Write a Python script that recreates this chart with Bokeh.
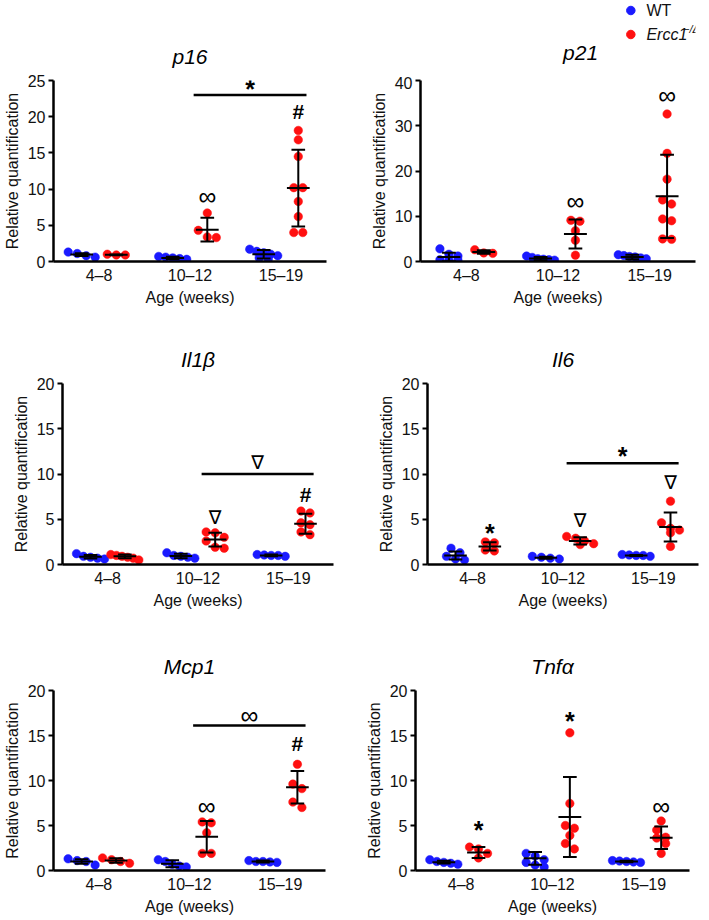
from bokeh.plotting import figure
from bokeh.models import Range1d, FixedTicker
from bokeh.layouts import column, row
from bokeh.embed import file_html
from bokeh.resources import INLINE
from bokeh.core.properties import value

ages = ["4–8", "10–12", "15–19"]
wt_label = "WT"
ko_label = "Ercc1"
ko_sup = "−/Δ"

# ---------------- data ----------------
p16_wt = [[0.6, 1.3, 1.1, 0.8], [0.4, 0.6, 0.5, 0.7, 0.3], [1.7, 1.4, 1.0, 0.8, 0.5, 0.3, 1.2]]
p16_ko = [[0.9, 1.0, 0.9], [6.7, 4.3, 3.3, 3.4], [18.1, 16.8, 14.5, 10.2, 10.2, 8.3, 6.2, 4.0, 4.0]]
p16_wt_mean = [0.95, 0.5, 1.0]
p16_wt_sd = [0.2, 0.15, 0.6]
p16_ko_mean = [0.93, 4.4, 10.15]
p16_ko_sd = [0.05, 1.65, 5.3]

p21_wt = [[2.8, 1.6, 1.2, 0.4, 0.3, 0.3], [0.9, 1.2, 0.5, 0.3, 0.6, 0.4], [1.5, 1.3, 1.0, 0.8, 0.6, 1.1]]
p21_ko = [[1.8, 2.6, 1.9], [9.1, 8.9, 6.8, 4.7, 1.4], [32.6, 23.9, 18.2, 13.6, 12.7, 9.4, 9.0, 5.0, 4.9]]
p21_wt_mean = [1.0, 0.65, 1.0]
p21_wt_sd = [0.95, 0.35, 0.5]
p21_ko_mean = [2.1, 6.1, 14.4]
p21_ko_sd = [0.4, 3.2, 9.2]

il1b_wt = [[0.6, 1.2, 0.8, 0.7, 0.9], [1.3, 0.9, 0.7, 1.0, 0.8], [1.0, 1.1, 0.9, 1.0, 1.05]]
il1b_ko = [[1.1, 0.7, 0.9, 0.8, 1.0, 0.5], [3.6, 3.5, 3.0, 2.6, 1.9, 1.8], [5.9, 5.7, 4.6, 4.4, 3.6, 3.3]]
il1b_wt_mean = [0.85, 0.95, 1.0]
il1b_wt_sd = [0.2, 0.25, 0.1]
il1b_ko_mean = [0.9, 2.75, 4.5]
il1b_ko_sd = [0.2, 0.75, 1.1]

il6_wt = [[1.8, 1.3, 0.9, 0.5, 0.6], [0.9, 0.7, 0.6, 0.8], [1.0, 1.1, 0.9, 1.0, 1.05]]
il6_ko = [[2.5, 2.4, 1.6, 1.5], [3.1, 2.9, 2.6, 2.3, 2.2], [7.0, 4.6, 4.0, 3.8, 3.5, 2.0]]
il6_wt_mean = [1.0, 0.75, 1.0]
il6_wt_sd = [0.45, 0.12, 0.06]
il6_ko_mean = [2.0, 2.6, 4.15]
il6_ko_sd = [0.45, 0.4, 1.6]

mcp1_wt = [[1.3, 1.1, 0.6, 1.0], [1.2, 1.0, 0.5, 0.4, 0.7], [1.1, 1.0, 0.9, 1.0, 0.95]]
mcp1_ko = [[1.4, 0.8, 1.2, 1.0], [5.4, 5.3, 4.2, 1.9, 1.9], [11.8, 9.6, 9.1, 7.6, 7.0]]
mcp1_wt_mean = [1.0, 0.75, 1.0]
mcp1_wt_sd = [0.25, 0.4, 0.1]
mcp1_ko_mean = [1.1, 3.75, 9.25]
mcp1_ko_sd = [0.25, 1.75, 1.8]

tnfa_wt = [[1.2, 0.9, 0.7, 1.0, 0.8], [1.9, 1.6, 1.2, 0.9, 0.6, 0.4], [1.0, 1.1, 0.9, 0.95, 1.05]]
tnfa_ko = [[2.6, 2.4, 1.9, 1.4], [15.3, 7.45, 5.0, 4.7, 3.9, 3.0, 2.4], [5.5, 4.5, 3.7, 3.6, 3.0, 1.9]]
tnfa_wt_mean = [0.92, 1.35, 1.0]
tnfa_wt_sd = [0.15, 0.7, 0.08]
tnfa_ko_mean = [2.0, 5.95, 3.65]
tnfa_ko_sd = [0.6, 4.45, 1.25]

# significance marks: (age index, symbol, y)
p16_marks = [(1, "∞", 9.0), (2, "#", 20.7)]
p21_marks = [(1, "∞", 13.3), (2, "∞", 36.9)]
il1b_marks = [(1, "∇", 5.3), (2, "#", 7.7)]
il6_marks = [(0, "*", 3.8), (1, "∇", 4.9), (2, "∇", 9.1)]
mcp1_marks = [(1, "∞", 7.2), (2, "#", 14.1)]
tnfa_marks = [(0, "*", 4.8), (1, "*", 16.9), (2, "∞", 7.2)]
# bracket between 10–12 and 15–19 Ercc1 groups: (line y, symbol, symbol y)
p16_bracket = (23.0, "*", 24.3)
il1b_bracket = (10.0, "∇", 11.3)
il6_bracket = (11.2, "*", 12.3)
mcp1_bracket = (16.1, "∞", 17.3)

BLUE = "#1a1aff"
RED = "#ff1010"
FONT = "Liberation Sans"
TXT = "#111111"
OFF = 0.19

SYM_STYLE = {
    "∞": dict(font="Liberation Sans", size="25px", style="normal", dy=0.0),
    "#": dict(font="Liberation Sans", size="21px", style="bold", dy=0.0),
    "*": dict(font="Liberation Sans", size="25px", style="bold", dy=-3.0),
    "∇": dict(font="DejaVu Sans", size="19px", style="normal", dy=0.0),
}


def swarm(vals, ymax, fh, fw, d=9.0, maxspan=28.0):
    ppu_y = fh / ymax
    ppu_x = fw / 3.0
    order = sorted(range(len(vals)), key=lambda i: -vals[i])
    offs = [0.0] * len(vals)
    clusters, cur = [], []
    for i in order:
        if cur and (vals[cur[0]] - vals[i]) * ppu_y > 7.5:
            clusters.append(cur)
            cur = []
        cur.append(i)
    if cur:
        clusters.append(cur)
    for c in clusters:
        n = len(c)
        step = d if n < 2 else min(d, maxspan / (n - 1))
        for j, i in enumerate(c):
            offs[i] = (j - (n - 1) / 2.0) * step / ppu_x
    return offs


def add_sym(p, xs, ys, syms):
    for s in sorted(set(syms)):
        st = SYM_STYLE[s]
        xx = [x for x, q in zip(xs, syms) if q == s]
        yy = [y for y, q in zip(ys, syms) if q == s]
        p.text(x=xx, y=yy, text=[s] * len(xx), text_font=value(st["font"]),
               text_font_size=value(st["size"]), text_font_style=st["style"],
               text_align="center", text_baseline="middle", text_color="black",
               y_offset=-st["dy"])


def make_panel(title, ymax, ystep, wt, ko, wt_mean, wt_sd, ko_mean, ko_sd, marks, bracket,
               width, height, left, right, top, bottom):
    fw = width - left - right
    fh = height - top - bottom
    p = figure(width=width, height=height, x_range=Range1d(0.5, 3.5), y_range=Range1d(0, ymax),
               output_backend="svg", toolbar_location=None,
               min_border_left=left, min_border_right=right, min_border_top=top,
               min_border_bottom=bottom, title=title)
    p.grid.visible = False
    p.outline_line_color = None
    p.background_fill_color = None
    p.border_fill_color = None
    if title:
        p.title.align = "center"
        p.title.text_font = FONT
        p.title.text_font_size = "21px"
        p.title.text_font_style = "italic"
        p.title.text_color = "black"
        p.title.standoff = 25

    xa = p.xaxis[0]
    xa.ticker = FixedTicker(ticks=[1, 2, 3])
    xa.major_label_overrides = {1: ages[0], 2: ages[1], 3: ages[2]}
    xa.major_tick_line_color = None
    xa.major_tick_in = 0
    xa.major_tick_out = 0
    xa.minor_tick_line_color = None
    xa.minor_tick_in = 0
    xa.minor_tick_out = 0
    xa.axis_line_width = 2.5
    xa.axis_line_color = "black"
    xa.major_label_standoff = 5
    xa.major_label_text_font = FONT
    xa.major_label_text_font_size = "16px"
    xa.major_label_text_color = TXT
    xa.axis_label = "Age (weeks)"
    xa.axis_label_text_font = FONT
    xa.axis_label_text_font_size = "16px"
    xa.axis_label_text_font_style = "normal"
    xa.axis_label_text_color = TXT
    xa.axis_label_standoff = 2

    ya = p.yaxis[0]
    ya.ticker = FixedTicker(ticks=list(range(0, ymax + 1, ystep)))
    ya.minor_tick_line_color = None
    ya.minor_tick_in = 0
    ya.minor_tick_out = 0
    ya.major_tick_in = 0
    ya.major_tick_out = 5
    ya.major_tick_line_width = 2
    ya.axis_line_width = 2.5
    ya.axis_line_color = "black"
    ya.major_label_standoff = 3
    ya.major_label_text_font = FONT
    ya.major_label_text_font_size = "16px"
    ya.major_label_text_color = TXT
    ya.axis_label = "Relative quantification"
    ya.axis_label_text_font = FONT
    ya.axis_label_text_font_size = "16px"
    ya.axis_label_text_font_style = "normal"
    ya.axis_label_text_color = TXT
    ya.axis_label_standoff = 4

    for sign, groups, color, means, sds in ((-1, wt, BLUE, wt_mean, wt_sd), (1, ko, RED, ko_mean, ko_sd)):
        xs, ys = [], []
        for k, vals in enumerate(groups):
            offs = swarm(vals, ymax, fh, fw)
            for v, o in zip(vals, offs):
                xs.append(k + 1 + sign * OFF + o)
                ys.append(v)
        p.scatter(xs, ys, size=8.5, fill_color=color, line_color=color, line_width=0.5)
        cx = [k + 1 + sign * OFF for k in range(3)]
        lo = [m - s for m, s in zip(means, sds)]
        hi = [m + s for m, s in zip(means, sds)]
        p.segment(x0=cx, y0=lo, x1=cx, y1=hi, line_color="black", line_width=2)
        cap = 0.075
        mw = 0.125
        p.segment(x0=[c - cap for c in cx], y0=lo, x1=[c + cap for c in cx], y1=lo, line_color="black", line_width=2)
        p.segment(x0=[c - cap for c in cx], y0=hi, x1=[c + cap for c in cx], y1=hi, line_color="black", line_width=2)
        p.segment(x0=[c - mw for c in cx], y0=means, x1=[c + mw for c in cx], y1=means, line_color="black", line_width=2)

    if marks:
        add_sym(p, [m[0] + 1 + OFF for m in marks], [m[2] for m in marks], [m[1] for m in marks])
    if bracket:
        x0 = 2 + 0.04
        x1 = 3 + OFF + 0.09
        p.segment(x0=[x0], y0=[bracket[0]], x1=[x1], y1=[bracket[0]], line_color="black", line_width=2.5)
        add_sym(p, [(x0 + x1) / 2], [bracket[2]], [bracket[1]])
    return p


LW, RW = 352, 353
B = 47
T1, T2, T3 = 80, 75, 79
H1 = T1 + 181 + B
H2 = T2 + 181 + B
H3 = T3 + 180 + B
P21_TOP = 4
LEG_H = T1 - P21_TOP
P21_LEFT, P21_RIGHT = 68, 10

p16 = make_panel("p16", 25, 5, p16_wt, p16_ko, p16_wt_mean, p16_wt_sd, p16_ko_mean, p16_ko_sd,
                 p16_marks, p16_bracket, LW, H1, 53, 26, T1, B)
p21 = make_panel(None, 40, 10, p21_wt, p21_ko, p21_wt_mean, p21_wt_sd, p21_ko_mean, p21_ko_sd,
                 p21_marks, None, RW, H1 - LEG_H, P21_LEFT, P21_RIGHT, P21_TOP, B)
il1b = make_panel("Il1β", 20, 5, il1b_wt, il1b_ko, il1b_wt_mean, il1b_wt_sd, il1b_ko_mean, il1b_ko_sd,
                  il1b_marks, il1b_bracket, LW, H2, 62, 19, T2, B)
il6 = make_panel("Il6", 20, 5, il6_wt, il6_ko, il6_wt_mean, il6_wt_sd, il6_ko_mean, il6_ko_sd,
                 il6_marks, il6_bracket, RW, H2, 75, 7, T2, B)
mcp1 = make_panel("Mcp1", 20, 5, mcp1_wt, mcp1_ko, mcp1_wt_mean, mcp1_wt_sd, mcp1_ko_mean, mcp1_ko_sd,
                  mcp1_marks, mcp1_bracket, LW, H3, 53, 27, T3, B)
tnfa = make_panel("Tnfα", 20, 5, tnfa_wt, tnfa_ko, tnfa_wt_mean, tnfa_wt_sd, tnfa_ko_mean, tnfa_ko_sd,
                  tnfa_marks, None, RW, H3, 63, 16, T3, B)

# legend + p21 title in a small header figure above the p21 panel
leg = figure(width=RW, height=LEG_H, x_range=Range1d(0, RW), y_range=Range1d(0, LEG_H),
             output_backend="svg", toolbar_location=None, min_border=0)
leg.axis.visible = False
leg.grid.visible = False
leg.outline_line_color = None
leg.background_fill_color = None
leg.border_fill_color = None
y_wt = LEG_H - 10
y_ko = LEG_H - 34
leg.scatter([270, 270], [y_wt, y_ko], size=8.5, fill_color=[BLUE, RED], line_color=[BLUE, RED])
leg.text(x=[290], y=[y_wt], text=[wt_label], text_font=value(FONT), text_font_size=value("16px"),
         text_baseline="middle", text_color=TXT)
leg.text(x=[290], y=[y_ko], text=[ko_label], text_font=value(FONT), text_font_size=value("16px"),
         text_font_style="italic", text_baseline="middle", text_color=TXT)
leg.text(x=[337], y=[y_ko + 6], text=[ko_sup], text_font=value(FONT), text_font_size=value("11px"),
         text_font_style="italic", text_baseline="middle", text_color=TXT)
p21_frame_w = RW - P21_LEFT - P21_RIGHT
leg.text(x=[P21_LEFT + p21_frame_w / 2], y=[LEG_H - 52], text=["p21"], text_font=value(FONT),
         text_font_size=value("21px"), text_font_style="italic", text_align="center",
         text_baseline="middle", text_color="black")

layout = column(row(p16, column(leg, p21)), row(il1b, il6), row(mcp1, tnfa))
open("out.html", "w").write(file_html(layout, INLINE))
